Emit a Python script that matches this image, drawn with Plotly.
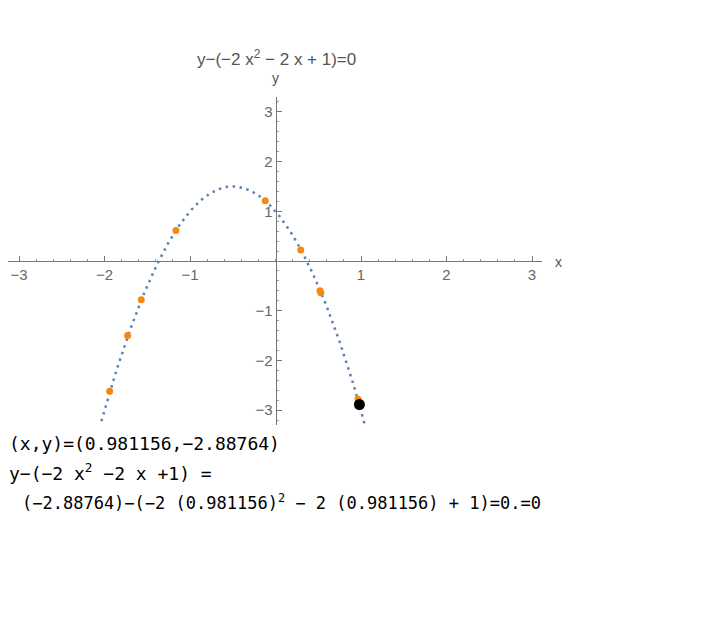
import numpy as np
import plotly.graph_objects as go

# Equation y - (a x^2 + b x + c) = 0
coefficients = [-2, -2, 1]

# Sample solution points (orange)
pts_x = [-1.94, -1.73, -1.57, -1.165, -0.12, 0.295, 0.52, 0.53, 0.965]
pts_y = [-2.62, -1.50, -0.78, 0.616, 1.21, 0.22, -0.60, -0.64, -2.78]

# Highlighted point (black)
sel_x = [0.981156]
sel_y = [-2.88764]

tick_vals = [-3, -2, -1, 1, 2, 3]
tick_text = ["\u22123", "\u22122", "\u22121", "1", "2", "3"]

x_range = [-3.129, 3.117]
y_range = [-3.30, 3.30]

OFF = 8  # page body margin
W, H = 716, 628
# plot area in screen px: x 8..542, y 97..425
L, T = 8 - OFF, 97 - OFF
pw, ph = 534, 328
R = W - L - pw
B = H - T - ph


def px(xs):
    return (xs - OFF - L) / pw


def py(ys):
    return (T + ph - (ys - OFF)) / ph


a, b, c = coefficients
cx = np.linspace(x_range[0], x_range[1], 600)
cy = a * cx ** 2 + b * cx + c

fig = go.Figure()
fig.add_trace(go.Scatter(x=cx, y=cy, mode="lines",
                         line=dict(color="#5E81B5", width=2.5, dash="2.5px,4.5px"),
                         hoverinfo="skip"))
fig.add_trace(go.Scatter(x=pts_x, y=pts_y, mode="markers",
                         marker=dict(color="#F5890F", size=7)))
fig.add_trace(go.Scatter(x=sel_x, y=sel_y, mode="markers",
                         marker=dict(color="black", size=11)))

axis_common = dict(
    showgrid=False, zeroline=False, showline=True, linecolor="#777777",
    linewidth=1, ticks="inside", ticklen=5, tickcolor="#777777",
    tickmode="array", tickvals=tick_vals, ticktext=tick_text,
    tickfont=dict(family="Liberation Sans", size=15, color="#666666"),
    minor=dict(ticks="inside", ticklen=2.5, tickcolor="#999999",
               tickmode="linear", tick0=0, dtick=0.2),
    anchor="free", fixedrange=True,
)

fig.update_layout(
    width=W, height=H,
    margin=dict(l=L, r=R, t=T, b=B, pad=0),
    paper_bgcolor="white", plot_bgcolor="white",
    showlegend=False,
    xaxis=dict(range=x_range, position=(0 - y_range[0]) / (y_range[1] - y_range[0]),
               **axis_common),
    yaxis=dict(range=y_range, position=(0 - x_range[0]) / (x_range[1] - x_range[0]),
               **axis_common),
)

gray_font = dict(family="Liberation Sans", size=17, color="#555555")
lab_font = dict(family="Liberation Sans", size=14, color="#555555")
ann = []
ann.append(dict(x=px(276), y=py(58), xref="paper", yref="paper",
                text="y\u2212(\u22122 x<sup>2</sup> \u2212 2 x + 1)=0",
                showarrow=False, font=gray_font, xanchor="center", yanchor="middle"))
ann.append(dict(x=px(558), y=py(262), xref="paper", yref="paper", text="x",
                showarrow=False, font=lab_font, xanchor="center", yanchor="middle"))
ann.append(dict(x=px(275), y=py(78), xref="paper", yref="paper", text="y",
                showarrow=False, font=lab_font, xanchor="center", yanchor="middle"))

mono = dict(family="DejaVu Sans Mono", size=18, color="black")
ann.append(dict(x=px(7), y=py(443), xref="paper", yref="paper",
                text="(x,y)=(0.981156,\u22122.88764)",
                showarrow=False, font=mono, xanchor="left", yanchor="middle"))
ann.append(dict(x=px(7), y=py(472), xref="paper", yref="paper",
                text="y\u2212(\u22122 x<sup>2</sup> \u22122 x +1) =",
                showarrow=False, font=mono, xanchor="left", yanchor="middle"))
ann.append(dict(x=px(20), y=py(502), xref="paper", yref="paper",
                text="(\u22122.88764)\u2212(\u22122 (0.981156)<sup>2</sup> \u2212 2 (0.981156) + 1)=0.=0",
                showarrow=False, font=dict(family="DejaVu Sans Mono", size=17, color="black"),
                xanchor="left", yanchor="middle"))
fig.update_layout(annotations=ann)

fig.write_html("out.html")
